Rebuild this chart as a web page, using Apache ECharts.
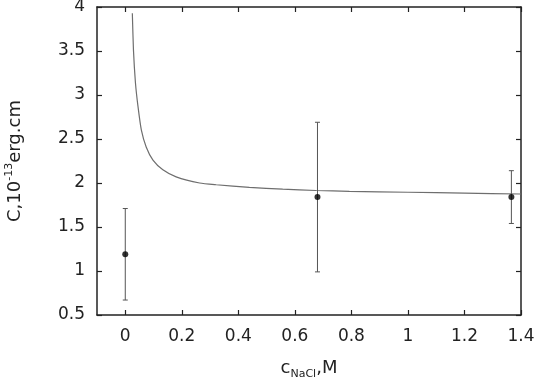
<!DOCTYPE html>
<html><head><meta charset="utf-8">
<script src="https://cdn.jsdelivr.net/npm/echarts@6/dist/echarts.min.js"></script>
<style>html,body{margin:0;padding:0;background:#fff}#c{width:551px;height:380px}</style>
</head><body><div id="c"></div>
<script>
// Fitted curve
const curveX = [0.025, 0.029, 0.036, 0.045, 0.057, 0.074, 0.098, 0.133, 0.18, 0.263, 0.322, 0.439, 0.557, 0.675, 0.793, 1.0, 1.2, 1.4];
const curveY = [3.93, 3.51, 3.14, 2.87, 2.60, 2.41, 2.26, 2.15, 2.07, 2.00, 1.98, 1.95, 1.93, 1.915, 1.905, 1.895, 1.885, 1.875];
// Measured points with error bars
const ptX = [0, 0.68, 1.366];
const ptY = [1.19, 1.84, 1.84];
const errLow = [0.67, 0.99, 1.54];
const errHigh = [1.71, 2.69, 2.14];
const xTicks = [0, 0.2, 0.4, 0.6, 0.8, 1, 1.2, 1.4];

const font = 'DejaVu Sans';
const chart = echarts.init(document.getElementById('c'), null, {renderer: 'canvas'});
const axLine = {show: true, onZero: false, lineStyle: {color: '#222', width: 1.5}};
const tick = {inside: true, length: 5, lineStyle: {color: '#222', width: 1.2}};
chart.setOption({
  animation: false,
  backgroundColor: '#fff',
  grid: {left: 97, right: 30, top: 7, bottom: 65, containLabel: false, outerBoundsMode: 'none'},
  xAxis: [{
    type: 'value', min: -0.1, max: 1.4, position: 'bottom',
    axisLine: axLine, splitLine: {show: false},
    axisTick: Object.assign({customValues: xTicks}, tick),
    axisLabel: {customValues: xTicks, fontFamily: font, fontSize: 17, color: '#222', margin: 13},
    name: '{m|c}{s|NaCl}{m|,M}', nameLocation: 'middle', nameGap: 42,
    nameTextStyle: {rich: {m: {fontFamily: font, fontSize: 18, color: '#222'}, s: {fontFamily: font, fontSize: 11, color: '#222', verticalAlign: 'bottom', padding: [12, 0, 0, 0]}}}
  }, {
    type: 'value', min: -0.1, max: 1.4, position: 'top',
    axisLine: axLine, splitLine: {show: false},
    axisTick: Object.assign({customValues: xTicks}, tick),
    axisLabel: {show: false, customValues: xTicks}
  }],
  yAxis: [{
    type: 'value', min: 0.5, max: 4, interval: 0.5, position: 'left',
    axisLine: axLine, splitLine: {show: false}, axisTick: tick,
    axisLabel: {fontFamily: font, fontSize: 17, color: '#222', margin: 12},
    name: '{m|C,10}{s|-13}{m|erg.cm}', nameLocation: 'middle', nameGap: 71,
    nameTextStyle: {rich: {m: {fontFamily: font, fontSize: 18, color: '#222'}, s: {fontFamily: font, fontSize: 11, color: '#222', padding: [0, 0, 11, 0]}}}
  }, {
    type: 'value', min: 0.5, max: 4, interval: 0.5, position: 'right',
    axisLine: axLine, splitLine: {show: false}, axisTick: tick,
    axisLabel: {show: false}
  }],
  series: [{
    type: 'line', data: curveX.map((x, i) => [x, curveY[i]]),
    smooth: 0.2, showSymbol: false, lineStyle: {color: '#6e6e6e', width: 1.2}, z: 2
  }, {
    type: 'custom',
    data: ptX.map((x, i) => [x, errLow[i], errHigh[i]]),
    renderItem: function (params, api) {
      const lo = api.coord([api.value(0), api.value(1)]);
      const hi = api.coord([api.value(0), api.value(2)]);
      const w = 2.5;
      const st = {stroke: '#555', lineWidth: 1};
      return {type: 'group', children: [
        {type: 'line', shape: {x1: lo[0], y1: lo[1], x2: hi[0], y2: hi[1]}, style: st},
        {type: 'line', shape: {x1: lo[0] - w, y1: lo[1], x2: lo[0] + w, y2: lo[1]}, style: st},
        {type: 'line', shape: {x1: hi[0] - w, y1: hi[1], x2: hi[0] + w, y2: hi[1]}, style: st}
      ]};
    }, z: 3
  }, {
    type: 'scatter', data: ptX.map((x, i) => [x, ptY[i]]),
    symbolSize: 6, itemStyle: {color: '#000'}, z: 4
  }]
});
</script></body></html>
